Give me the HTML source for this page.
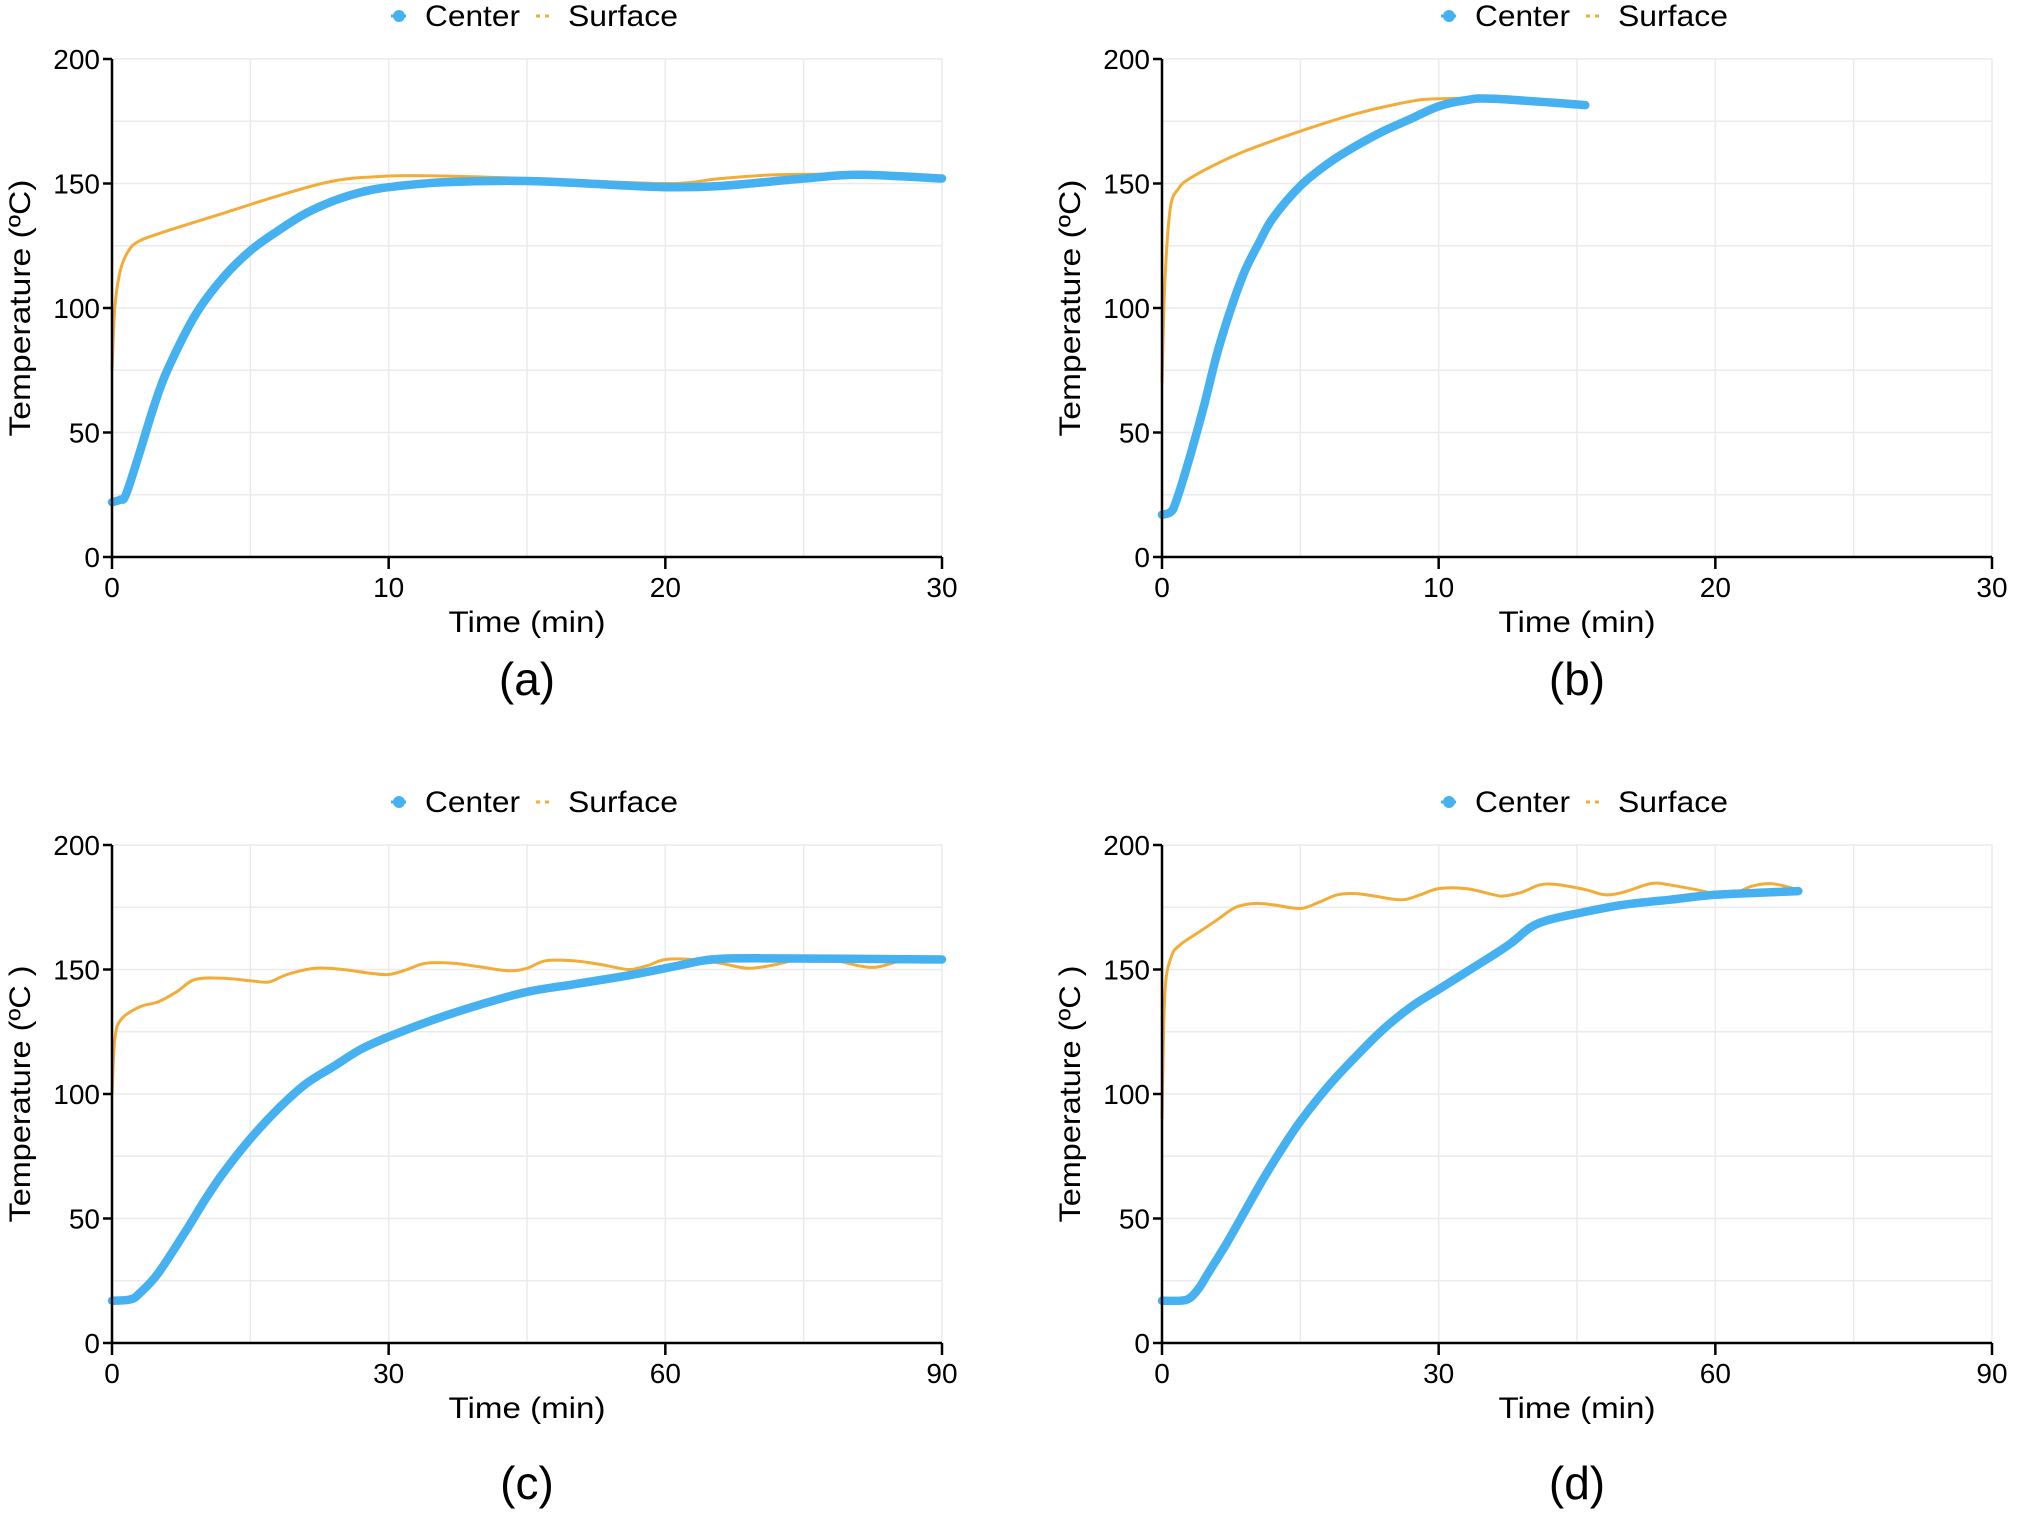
<!DOCTYPE html>
<html><head><meta charset="utf-8"><style>
html,body{margin:0;padding:0;background:#fff}
svg{display:block}
text{font-family:"Liberation Sans",Arial,sans-serif;fill:#000}
</style></head><body>
<svg id="s" width="2019" height="1516" xmlns="http://www.w3.org/2000/svg"></svg>
<script>
const S=document.getElementById('s');let h='';
const P=[
{ox:0,oy:0,xm:30,xt:[0,10,20,30],lab:'(a)',ld:0,yl:'Temperature (ºC)',
c:[[0,22],[0.3,23],[0.5,25],[1,42],[1.5,60],[2,75],[3,97],[4,112],[5,123],[6,131],[7,138],[8,143],[9,146.5],[10,148.5],[12,150.5],[15,151],[18,149.5],[20,148.5],[22,149],[25,152],[27,153.5],[30,152]],
s:[[0,75],[0.1,100],[0.3,115],[0.6,123],[1,127],[2,131],[4,138],[6,145],[8,151],[10,153],[12,153],[15,152],[20,150],[22,152],[24,153.5],[27,153.5],[30,151.5]]},
{ox:1050,oy:0,xm:30,xt:[0,10,20,30],lab:'(b)',ld:0,yl:'Temperature (ºC)',
c:[[0,17],[0.3,18],[0.5,22],[1,40],[1.5,60],[2,82],[2.5,100],[3,115],[3.5,126],[4,136],[5,149],[6,158],[7,165],[8,171],[9,176],[10,181],[11,183.5],[12,184],[15.3,181.5]],
s:[[0,70],[0.1,110],[0.3,140],[0.6,148],[1,152],[2,158],[3,163],[5,171],[7,178],[9,183],[10,184],[12,184],[15.3,181]]},
{ox:0,oy:786,xm:90,xt:[0,30,60,90],lab:'(c)',ld:18,yl:'Temperature (ºC )',
c:[[0,17],[2,17.5],[3,20],[5,28],[8,45],[10,57],[12,68],[15,82],[18,94],[21,104],[24,111],[27,118],[30,123],[35,130],[40,136],[45,141],[50,144],[55,147],[58,149],[62,152],[65,154],[70,154.5],[90,154]],
s:[[0,100],[0.3,122],[1,130],[3,135],[5,137],[7,141],[9,146],[12,146.5],[15,145.5],[17,145],[19,148],[22,150.5],[25,150],[28,148.5],[30,148],[32,150],[34,152.5],[37,152.5],[40,151],[43,149.5],[45,150.5],[47,153.5],[50,153.5],[53,152],[56,150],[58,151.5],[60,154],[63,154],[66,152.5],[69,150.5],[72,152],[75,154.5],[78,154],[81,151.5],[83,151],[86,154],[88,154.5],[90,153.5]]},
{ox:1050,oy:786,xm:90,xt:[0,30,60,90],lab:'(d)',ld:18,yl:'Temperature (ºC )',
c:[[0,17],[2,17],[3,18],[4,22],[5,28],[7,40],[9,53],[11,66],[13,78],[15,89],[18,103],[21,115],[24,126],[27,135],[30,142],[33,149],[36,156],[38,161],[40,167],[42,170],[45,172.5],[50,176],[55,178],[60,180],[66,181],[69,181.5]],
s:[[0,90],[0.3,140],[1,155],[2,160],[4,165],[6,170],[8,175],[10,176.5],[12,176],[15,174.5],[17,177],[19,180],[21,180.5],[23,179.5],[26,178],[28,180],[30,182.5],[33,182.5],[36,180],[37,179.5],[39,181],[41,184],[43,184],[46,182],[48,180],[50,181],[53,184.5],[55,184],[58,182],[60,180.5],[62,180.5],[64,183.5],[66,184.5],[68,183],[69,182]]}
];
function path(pts,X,Y){
 const p=pts.map(q=>[X(q[0]),Y(q[1])]);let d='M'+p[0][0].toFixed(1)+','+p[0][1].toFixed(1);
 for(let i=0;i<p.length-1;i++){const p0=p[i-1]||p[i],p1=p[i],p2=p[i+1],p3=p[i+2]||p2;
  const c1=[p1[0]+(p2[0]-p0[0])/6,p1[1]+(p2[1]-p0[1])/6],c2=[p2[0]-(p3[0]-p1[0])/6,p2[1]-(p3[1]-p1[1])/6];
  d+=`C${c1[0].toFixed(1)},${c1[1].toFixed(1)} ${c2[0].toFixed(1)},${c2[1].toFixed(1)} ${p2[0].toFixed(1)},${p2[1].toFixed(1)}`;}
 return d;}
for(const p of P){
 const x0=112+p.ox,x1=942+p.ox,y0=557+p.oy,y1=59+p.oy;
 const X=v=>x0+(x1-x0)*v/p.xm,Y=v=>y0-(y0-y1)*v/200;
 for(let i=1;i<=6;i++){const x=x0+(x1-x0)*i/6;h+=`<line x1="${x}" y1="${y1}" x2="${x}" y2="${y0}" stroke="#ebebeb" stroke-width="1.5"/>`;}
 for(let i=1;i<=8;i++){const y=y0-(y0-y1)*i/8;h+=`<line x1="${x0}" y1="${y}" x2="${x1}" y2="${y}" stroke="#ebebeb" stroke-width="1.5"/>`;}
 h+=`<path d="${path(p.s,X,Y)}" fill="none" stroke="#f2ac38" stroke-width="3"/>`;
 h+=`<path d="${path(p.c,X,Y)}" fill="none" stroke="#45b1f0" stroke-width="8.5" stroke-linecap="round"/>`;
 h+=`<line x1="${x0}" y1="${y1}" x2="${x0}" y2="${y0}" stroke="#000" stroke-width="2.5"/><line x1="${x0}" y1="${y0}" x2="${x1}" y2="${y0}" stroke="#000" stroke-width="2.5"/>`;
 for(let v=0;v<=200;v+=50){const y=Y(v);h+=`<line x1="${x0-9}" y1="${y}" x2="${x0}" y2="${y}" stroke="#000" stroke-width="2.5"/><text x="${x0-12}" y="${y+10}" font-size="28" text-anchor="end">${v}</text>`;}
 for(const v of p.xt){const x=X(v);h+=`<line x1="${x}" y1="${y0}" x2="${x}" y2="${y0+12}" stroke="#000" stroke-width="2.5"/><text x="${x}" y="${y0+40}" font-size="28" text-anchor="middle">${v}</text>`;}
 const cx=(x0+x1)/2;
 h+=`<text x="${cx}" y="${y0+75}" font-size="30" text-anchor="middle" textLength="157" lengthAdjust="spacingAndGlyphs">Time (min)</text>`;
 h+=`<text x="${cx}" y="${y0+138+p.ld}" font-size="46" text-anchor="middle">${p.lab}</text>`;
 const ly=(y0+y1)/2;
 h+=`<text transform="translate(${p.ox+30},${ly}) rotate(-90)" font-size="30" text-anchor="middle" textLength="257" lengthAdjust="spacingAndGlyphs">${p.yl}</text>`;
 const lg=p.oy+16;
 h+=`<line x1="${p.ox+391}" y1="${lg}" x2="${p.ox+406}" y2="${lg}" stroke="#45b1f0" stroke-width="3"/><circle cx="${p.ox+399}" cy="${lg}" r="6" fill="#45b1f0"/>`;
 h+=`<text x="${p.ox+425}" y="${lg+10}" font-size="30" textLength="95" lengthAdjust="spacingAndGlyphs">Center</text>`;
 h+=`<line x1="${p.ox+536}" y1="${lg}" x2="${p.ox+554}" y2="${lg}" stroke="#f2ac38" stroke-width="3" stroke-dasharray="4,5"/>`;
 h+=`<text x="${p.ox+568}" y="${lg+10}" font-size="30" textLength="110" lengthAdjust="spacingAndGlyphs">Surface</text>`;
}
S.innerHTML=h;
</script>
</body></html>
